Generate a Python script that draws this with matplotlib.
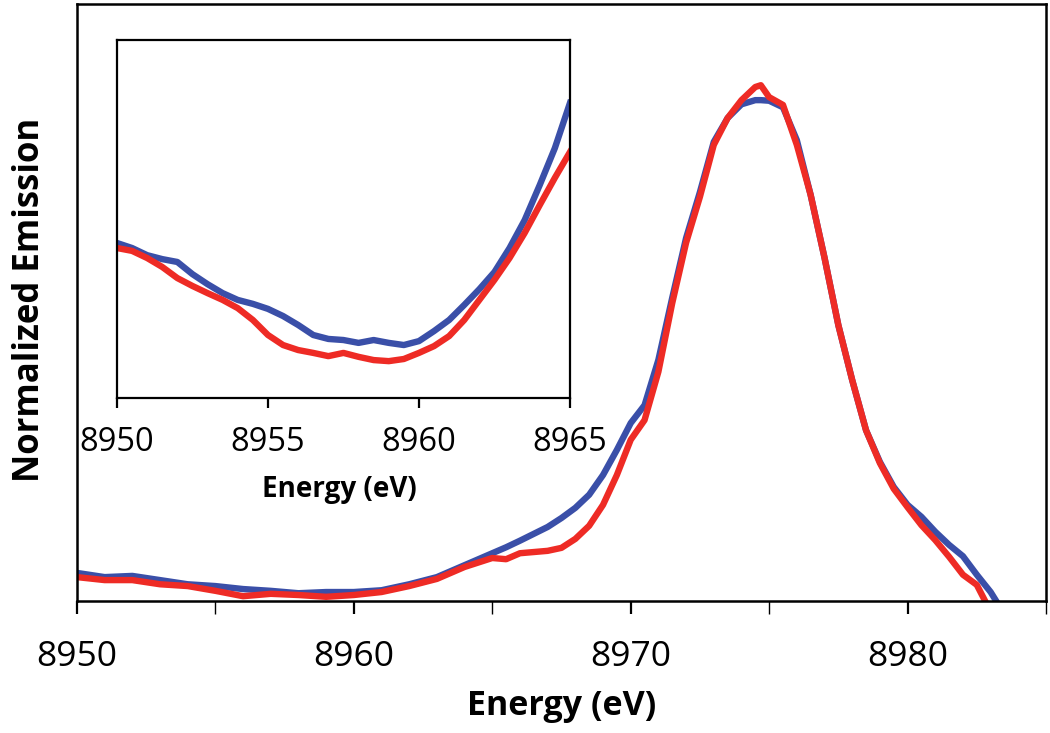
import matplotlib
matplotlib.use("Agg")
import matplotlib.pyplot as plt
from matplotlib.ticker import MultipleLocator, NullLocator

# main spectrum (normalized, 0 = bottom of axis, 1 = top)
energy_main = [8950, 8951, 8952, 8953, 8954, 8955, 8956, 8957, 8958, 8959,
               8960, 8961, 8962, 8963, 8964, 8965, 8965.5, 8966, 8967, 8967.5,
               8968, 8968.5, 8969, 8969.5, 8970, 8970.5, 8971, 8971.5, 8972, 8972.5,
               8973, 8973.5, 8974, 8974.5, 8974.7, 8975, 8975.5, 8976, 8976.5, 8977,
               8977.5, 8978, 8978.5, 8979, 8979.5, 8980, 8980.5, 8981, 8981.5, 8982,
               8982.5]
blue_main = [0.047, 0.040, 0.042, 0.035, 0.028, 0.025, 0.020, 0.017, 0.013, 0.015,
             0.015, 0.018, 0.028, 0.040, 0.060, 0.080, 0.090, 0.101, 0.124, 0.139,
             0.156, 0.178, 0.211, 0.253, 0.298, 0.328, 0.404, 0.508, 0.608, 0.685,
             0.769, 0.809, 0.832, 0.839, 0.839, 0.838, 0.827, 0.772, 0.680, 0.575,
             0.462, 0.370, 0.286, 0.233, 0.191, 0.161, 0.141, 0.116, 0.094, 0.075,
             0.044]
red_main = [0.040, 0.035, 0.035, 0.028, 0.025, 0.017, 0.008, 0.012, 0.010, 0.007,
            0.010, 0.015, 0.025, 0.037, 0.057, 0.072, 0.070, 0.080, 0.084, 0.089,
            0.104, 0.126, 0.161, 0.211, 0.270, 0.303, 0.384, 0.499, 0.600, 0.677,
            0.764, 0.809, 0.839, 0.861, 0.864, 0.844, 0.831, 0.764, 0.680, 0.575,
            0.462, 0.370, 0.286, 0.231, 0.188, 0.157, 0.127, 0.102, 0.074, 0.044,
            0.027]
blue_tail_e = [8983, 8983.2]
blue_tail = [0.015, 0.0]
red_tail_e = [8982.8]
red_tail = [0.0]

# inset: pre-edge region, magnified
energy_inset = [8950, 8950.5, 8951, 8951.5, 8952, 8952.5, 8953, 8953.5, 8954, 8954.5,
                8955, 8955.5, 8956, 8956.5, 8957, 8957.5, 8958, 8958.5, 8959, 8959.5,
                8960, 8960.5, 8961, 8961.5, 8962, 8962.5, 8963, 8963.5, 8964, 8964.5,
                8965]
blue_inset = [0.433, 0.419, 0.399, 0.388, 0.380, 0.346, 0.318, 0.293, 0.274, 0.263,
              0.249, 0.229, 0.204, 0.176, 0.165, 0.162, 0.154, 0.162, 0.154, 0.148,
              0.159, 0.187, 0.218, 0.260, 0.304, 0.352, 0.419, 0.497, 0.595, 0.698,
              0.824]
red_inset = [0.419, 0.411, 0.391, 0.366, 0.335, 0.313, 0.293, 0.274, 0.251, 0.218,
             0.176, 0.148, 0.134, 0.126, 0.117, 0.126, 0.115, 0.106, 0.103, 0.109,
             0.126, 0.145, 0.173, 0.218, 0.274, 0.330, 0.391, 0.461, 0.539, 0.615,
             0.687]

BLUE = "#3a4fa8"
RED = "#ee2b25"
FONT = "Open Sans"

fig = plt.figure(figsize=(10.5, 7.33), dpi=100)

ax = fig.add_axes([0.0733, 0.1801, 0.9229, 0.8144])
ax.plot(energy_main + blue_tail_e, blue_main + blue_tail, color=BLUE, lw=4.6,
        solid_joinstyle="round")
ax.plot(energy_main + red_tail_e, red_main + red_tail, color=RED, lw=4.6,
        solid_joinstyle="round")
ax.set_xlim(8950, 8985)
ax.set_ylim(0, 1)
ax.xaxis.set_major_locator(MultipleLocator(10))
ax.xaxis.set_minor_locator(MultipleLocator(5))
ax.yaxis.set_major_locator(NullLocator())
ax.tick_params(axis="x", which="major", direction="out", length=9, width=1.6,
               pad=19, labelsize=25.5)
ax.tick_params(axis="x", which="minor", direction="out", length=9, width=1.0)
for lab in ax.get_xticklabels():
    lab.set_fontfamily(FONT)
for sp in ax.spines.values():
    sp.set_linewidth(1.8)
ax.set_xlabel("Energy (eV)", fontsize=24.5, fontweight="bold", family=FONT)
ax.xaxis.set_label_coords(0.5, -0.148)
ax.xaxis.label.set_va("top")
fig.text(0.029, 0.591, "Normalized Emission", rotation=90, ha="center", va="center",
         fontsize=25, fontweight="bold", family=FONT)

ins = fig.add_axes([0.1114, 0.457, 0.4314, 0.4884])
ins.plot(energy_inset, blue_inset, color=BLUE, lw=4.6, solid_joinstyle="round")
ins.plot(energy_inset, red_inset, color=RED, lw=4.6, solid_joinstyle="round")
ins.set_xlim(8950, 8965)
ins.set_ylim(0, 1)
ins.xaxis.set_major_locator(MultipleLocator(5))
ins.yaxis.set_major_locator(NullLocator())
ins.tick_params(axis="x", direction="out", length=7, width=1.6, pad=13, labelsize=23.5)
for lab in ins.get_xticklabels():
    lab.set_fontfamily(FONT)
for sp in ins.spines.values():
    sp.set_linewidth(1.6)
ins.set_xlabel("Energy (eV)", fontsize=20, fontweight="bold", family=FONT)
ins.xaxis.set_label_coords(0.492, -0.215)
ins.xaxis.label.set_va("top")

fig.savefig("out.png", dpi=100)
